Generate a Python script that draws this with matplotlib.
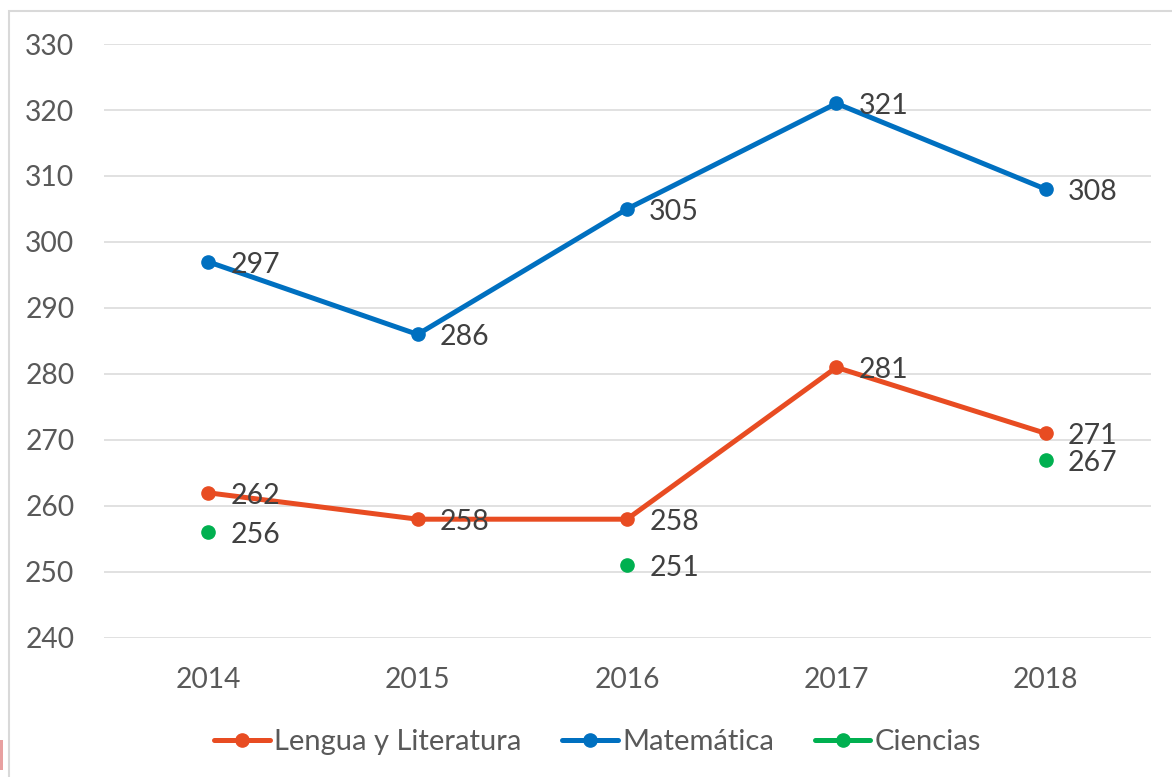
import numpy as np
import matplotlib
matplotlib.use('Agg')
import matplotlib.pyplot as plt
from matplotlib.patches import Rectangle

# datos
years = ['2014', '2015', '2016', '2017', '2018']
lengua = [262, 258, 258, 281, 271]
matematica = [297, 286, 305, 321, 308]
ciencias = [256, np.nan, 251, np.nan, 267]

series = [
    ('Lengua y Literatura', lengua, '#E84C22'),
    ('Matemática', matematica, '#0070C0'),
    ('Ciencias', ciencias, '#00B050'),
]

plt.rcParams['font.family'] = ['Lato', 'DejaVu Sans']

W, H = 1172, 777
fig = plt.figure(figsize=(W / 100, H / 100), dpi=100)
ax = fig.add_axes([103.5 / W, 1 - 638 / H, (1150.5 - 103.5) / W, (638 - 44) / H])

x = np.arange(len(years))
for name, vals, color in series:
    ax.plot(x, vals, color=color, lw=3.6, marker='o', ms=9.5, label=name,
            solid_capstyle='round', zorder=3)
    for xi, v in zip(x, vals):
        if np.isnan(v):
            continue
        ax.annotate(f'{v:.0f}', (xi, v), xytext=(16, -2), textcoords='offset points',
                    ha='left', va='center', fontsize=20.5, color='#404040', zorder=4)

ax.set_xlim(-0.5, len(years) - 0.5)
ax.set_ylim(240, 330)
ax.set_yticks(np.arange(240, 331, 10))
ax.set_xticks(x)
ax.set_xticklabels(years)
ax.grid(axis='y', color='#d9d9d9', lw=1.1, zorder=0)
ax.set_axisbelow(True)
for s in ax.spines.values():
    s.set_visible(False)
ax.tick_params(axis='both', length=0, labelsize=20.3, labelcolor='#595959')
ax.tick_params(axis='y', pad=21)
ax.tick_params(axis='x', pad=21)

fig.legend(loc='center', bbox_to_anchor=(0.51, 1 - 742 / H), ncol=3, frameon=False,
           fontsize=21, labelcolor='#595959', handlelength=1.9, handletextpad=0.15,
           columnspacing=1.4)

# marco del gráfico
fig.patches.append(Rectangle((9 / W, -0.1), 1.2, 1.1 - 11 / H, transform=fig.transFigure,
                             fill=False, edgecolor='#d9d9d9', lw=1.5))
fig.patches.append(Rectangle((0, 1 - 770 / H), 2.5 / W, 30 / H, transform=fig.transFigure,
                             color='#e8a0a0', lw=0))

fig.savefig('out.png', dpi=100, facecolor='white')
